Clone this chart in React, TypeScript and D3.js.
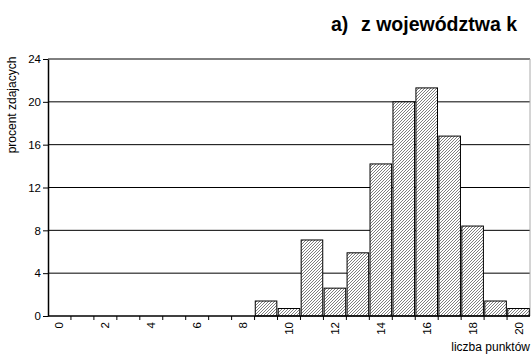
import { useEffect, useRef } from 'react';
import * as d3 from 'd3';

const points = d3.range(0, 21).map(String);
const percents = [0, 0, 0, 0, 0, 0, 0, 0, 0, 1.4, 0.7, 7.1, 2.6, 5.9, 14.2, 20.0, 21.3, 16.8, 8.4, 1.4, 0.7];
const yTicks = [0, 4, 8, 12, 16, 20, 24];
const xLabels = ['0', '2', '4', '6', '8', '10', '12', '14', '16', '18', '20'];

export default function App() {
  const svgRef = useRef<SVGSVGElement>(null);

  useEffect(() => {
    if (!svgRef.current) return;
    const svg = d3.select(svgRef.current);
    svg.selectAll('*').remove();

    const margin = { top: 59, right: 1, bottom: 38, left: 48 };
    const height = 354;
    const font = 'Liberation Sans, Arial, sans-serif';

    const x = d3.scaleBand()
      .domain(points)
      .range([margin.left, 530])
      .paddingInner(0.06)
      .paddingOuter(0.03);

    const y = d3.scaleLinear()
      .domain([0, 24])
      .range([height - margin.bottom, margin.top]);

    // hatch pattern "////"
    const pat = svg.append('defs').append('pattern')
      .attr('id', 'hatch')
      .attr('patternUnits', 'userSpaceOnUse')
      .attr('width', 3)
      .attr('height', 3);
    pat.append('rect').attr('width', 3).attr('height', 3).attr('fill', '#ffffff');
    pat.append('path')
      .attr('d', 'M-1,1 l2,-2 M0,3 l3,-3 M2,4 l2,-2')
      .attr('stroke', '#707070')
      .attr('stroke-width', 0.9);

    // title (cut at the right edge in the original)
    const title = svg.append('text')
      .attr('y', 31)
      .style('font-family', font)
      .style('font-weight', 'bold')
      .style('font-size', '19.5px');
    title.append('tspan').attr('x', 331).text('a)');
    title.append('tspan').attr('x', 361).text('z województwa k');

    // gridlines
    svg.append('g')
      .selectAll('line')
      .data(yTicks.filter(d => d > 0))
      .join('line')
      .attr('x1', margin.left)
      .attr('x2', 530)
      .attr('y1', d => y(d))
      .attr('y2', d => y(d))
      .attr('stroke', '#000')
      .attr('stroke-width', 1);

    // right border
    svg.append('line')
      .attr('x1', 530).attr('x2', 530)
      .attr('y1', y(24)).attr('y2', y(0))
      .attr('stroke', '#aaa');

    // bars
    svg.append('g')
      .selectAll('rect')
      .data(percents.map((v, i) => ({ name: points[i], value: v })).filter(d => d.value > 0))
      .join('rect')
      .attr('x', d => x(d.name) || 0)
      .attr('y', d => y(d.value))
      .attr('width', x.bandwidth())
      .attr('height', d => y(0) - y(d.value))
      .attr('fill', 'url(#hatch)')
      .attr('stroke', '#000')
      .attr('stroke-width', 1);

    // y axis
    const yAxis = svg.append('g')
      .attr('transform', `translate(${margin.left},0)`)
      .call(d3.axisLeft(y).tickValues(yTicks).tickSize(5).tickSizeOuter(0).tickPadding(2));
    yAxis.select('.domain').attr('stroke', '#000').attr('stroke-width', 1.5);
    yAxis.selectAll('text')
      .style('font-family', font)
      .style('font-size', '11.5px')
      .style('fill', '#000');

    // x axis
    const step = x.step();
    const xAxis = svg.append('g')
      .attr('transform', `translate(0,${y(0)})`);
    xAxis.append('line')
      .attr('x1', margin.left).attr('x2', 530)
      .attr('stroke', '#000').attr('stroke-width', 1.5);
    xAxis.selectAll('line.tick')
      .data(points.slice(1))
      .join('line')
      .attr('class', 'tick')
      .attr('x1', d => (x(d) || 0) - step * 0.03)
      .attr('x2', d => (x(d) || 0) - step * 0.03)
      .attr('y1', 0).attr('y2', 4)
      .attr('stroke', '#000');
    xAxis.selectAll('text')
      .data(xLabels)
      .join('text')
      .attr('transform', d => `translate(${(x(d) || 0) + x.bandwidth() / 2 + 4},6) rotate(-90)`)
      .attr('text-anchor', 'end')
      .text(d => d)
      .style('font-family', font)
      .style('font-size', '11.5px');

    // axis titles
    svg.append('text')
      .attr('transform', 'translate(16,105) rotate(-90)')
      .attr('text-anchor', 'middle')
      .text('procent zdajacych')
      .style('font-family', font)
      .style('font-size', '12px');

    svg.append('text')
      .attr('x', 530)
      .attr('y', 351)
      .attr('text-anchor', 'end')
      .text('liczba punktów')
      .style('font-family', font)
      .style('font-size', '12px');
  }, []);

  return (
    <svg
      ref={svgRef}
      width={531}
      height={354}
      style={{ position: 'fixed', left: 0, top: 0, background: '#fff' }}
    />
  );
}
